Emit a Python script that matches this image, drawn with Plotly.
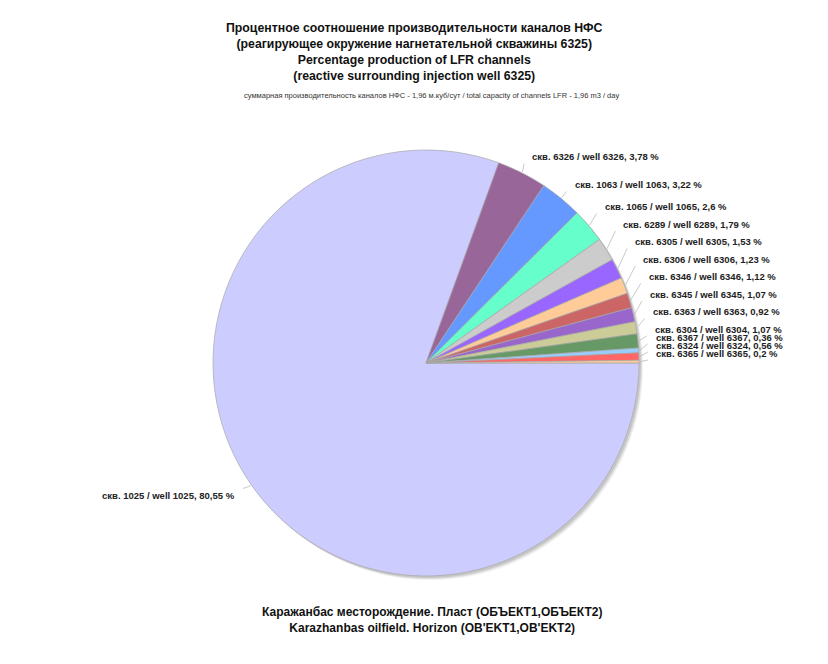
import numpy as np
import plotly.graph_objects as go

# --- data -------------------------------------------------------------
wells = ["1025", "6326", "1063", "1065", "6289", "6305", "6306",
         "6346", "6345", "6363", "6304", "6367", "6324", "6365"]
shares = [80.55, 3.78, 3.22, 2.6, 1.79, 1.53, 1.23,
          1.12, 1.07, 0.92, 1.07, 0.36, 0.56, 0.2]
slice_colors = ["#CCCCFF", "#996699", "#6699FF", "#66FFCC", "#CCCCCC",
                "#9966FF", "#FFCC99", "#CC6666", "#9966CC", "#CCCC99",
                "#669966", "#99CCFF", "#FF6666", "#FFCC99"]

title_lines = [
    "Процентное соотношение производительности каналов НФС",
    "(реагирующее окружение нагнетательной скважины 6325)",
    "Percentage production of LFR channels",
    "(reactive surrounding injection well 6325)",
]
subtitle = ("суммарная производительность каналов НФС - 1,96 м.куб/сут / "
            "total capacity of channels LFR - 1,96 m3 / day")
caption_lines = [
    "Каражанбас месторождение. Пласт (ОБЪЕКТ1,ОБЪЕКТ2)",
    "Karazhanbas oilfield. Horizon (OB'EKT1,OB'EKT2)",
]

# --- layout geometry (pixels) -----------------------------------------
W, H = 828, 664
CX, CY, R = 426.0, 363.0, 213.0
START = 90.0            # first slice starts at 3 o'clock, runs clockwise
LABEL_R = R + 18
FONT = "Arial, 'Liberation Sans', sans-serif"

labels = [f"скв. {w} / well {w}, {f'{v:g}'.replace('.', ',')} %"
          for w, v in zip(wells, shares)]

vals = np.array(shares, dtype=float)
frac = vals / vals.sum() * 360.0
starts = START + np.concatenate([[0.0], np.cumsum(frac)[:-1]])
mids = np.mod(starts + frac / 2.0, 360.0)

fig = go.Figure()

# empty trace so the pixel-space helper axes exist
fig.add_trace(go.Scatter(x=[], y=[], showlegend=False, hoverinfo="skip"))

fig.add_trace(go.Pie(
    values=shares,
    labels=labels,
    marker=dict(colors=slice_colors, line=dict(color="#A8A8A8", width=0.7)),
    sort=False,
    direction="clockwise",
    rotation=START,
    textinfo="none",
    hoverinfo="label",
    showlegend=False,
    domain=dict(x=[(CX - R) / W, (CX + R) / W],
                y=[(H - CY - R) / H, (H - CY + R) / H]),
))

shapes = []
# soft drop shadow behind the disc
for off, alpha in [(4, 0.06), (3, 0.08), (2, 0.10)]:
    shapes.append(dict(type="circle", xref="x", yref="y", layer="below",
                       x0=CX - R + off, x1=CX + R + off,
                       y0=CY - R + off, y1=CY + R + off,
                       line=dict(width=0), fillcolor=f"rgba(0,0,0,{alpha})"))

annotations = []

def polar(radius, ang):
    a = np.deg2rad(ang)
    return CX + radius * np.sin(a), CY - radius * np.cos(a)

# right-hand labels: natural positions, then an upward pass that keeps them apart
right = list(range(1, len(wells)))
nat_y = {i: polar(LABEL_R, mids[i])[1] for i in right}
lab_y = {}
for k in reversed(range(len(right))):
    i = right[k]
    if k == len(right) - 1:
        lab_y[i] = min(nat_y[i], CY - 10)
    else:
        gap = 8.0 if mids[i] > 83 else 17.5
        lab_y[i] = min(nat_y[i], lab_y[right[k + 1]] - gap)

label_font = dict(family=FONT, size=9.5, color="#222222")

for i in right:
    lx = polar(LABEL_R, mids[i])[0] - (3 if mids[i] > 75 else 0)
    ly = lab_y[i]
    px, py = polar(R + 1, mids[i])
    shapes.append(dict(type="line", xref="x", yref="y",
                       x0=px, y0=py, x1=lx - 6, y1=ly + 7,
                       line=dict(color="#BBBBBB", width=0.8)))
    annotations.append(dict(x=lx, y=ly, xref="x", yref="y",
                            text=f"<b>{labels[i]}</b>",
                            showarrow=False, xanchor="left", yanchor="middle",
                            font=label_font))

# large slice label on the left
lx, ly = polar(LABEL_R, mids[0])
px, py = polar(R + 1, mids[0])
shapes.append(dict(type="line", xref="x", yref="y",
                   x0=px, y0=py, x1=lx + 6, y1=ly - 7,
                   line=dict(color="#BBBBBB", width=0.8)))
annotations.append(dict(x=lx, y=ly, xref="x", yref="y",
                        text=f"<b>{labels[0]}</b>",
                        showarrow=False, xanchor="right", yanchor="middle",
                        font=label_font))

# titles
annotations.append(dict(x=414, y=51.5, xref="x", yref="y",
                        text="<br>".join(f"<b>{t}</b>" for t in title_lines),
                        showarrow=False, xanchor="center", yanchor="middle",
                        align="center",
                        font=dict(family=FONT, size=12.3, color="#111111")))
annotations.append(dict(x=431, y=95, xref="x", yref="y", text=subtitle,
                        showarrow=False, xanchor="center", yanchor="middle",
                        font=dict(family=FONT, size=7.5, color="#333333")))
annotations.append(dict(x=432, y=620, xref="x", yref="y",
                        text="<br>".join(f"<b>{t}</b>" for t in caption_lines),
                        showarrow=False, xanchor="center", yanchor="middle",
                        align="center",
                        font=dict(family=FONT, size=12, color="#111111")))

fig.update_layout(
    width=W, height=H,
    margin=dict(l=0, r=0, t=0, b=0, pad=0),
    paper_bgcolor="white", plot_bgcolor="white",
    xaxis=dict(range=[0, W], visible=False, fixedrange=True),
    yaxis=dict(range=[H, 0], visible=False, fixedrange=True),
    shapes=shapes,
    annotations=annotations,
    showlegend=False,
)

fig.write_html("out.html")
